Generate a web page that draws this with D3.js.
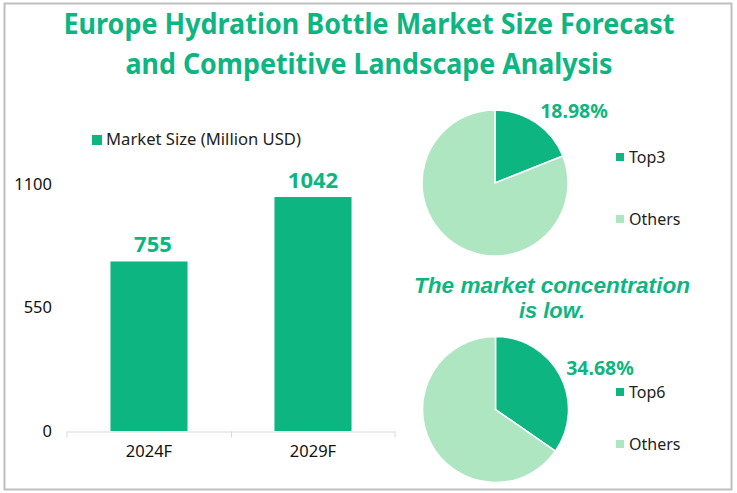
<!DOCTYPE html>
<html>
<head>
<meta charset="utf-8">
<script src="https://cdn.jsdelivr.net/npm/d3@7"></script>
<style>
body { margin: 0; background: #fff; }
text { font-family: "Noto Sans", "Open Sans", sans-serif; }
</style>
</head>
<body>
<div id="chart"></div>
<script>
const width = 737, height = 493;
const green = '#0DB681', lightGreen = '#AEE6C1';

const titleLines = ['Europe Hydration Bottle Market Size Forecast', 'and Competitive Landscape Analysis'];
const noteLines = ['The market concentration', 'is low.'];
const years = ['2024F', '2029F'];
const marketSize = [755, 1042];
const yTicks = [0, 550, 1100];
const pieNames = [['Top3', 'Others'], ['Top6', 'Others']];
const top3Share = [18.98, 81.02];
const top6Share = [34.68, 65.32];

const svg = d3.select('#chart').append('svg').attr('width', width).attr('height', height);

svg.append('rect')
  .attr('x', 4.5).attr('y', 3.5).attr('width', 727).attr('height', 486)
  .style('fill', '#fff').style('stroke', '#BFBFBF').style('stroke-width', 2);

// title
svg.selectAll('.title').data(titleLines).join('text')
  .attr('class', 'title')
  .attr('x', 369)
  .attr('y', (d, i) => 34 + i * 40)
  .attr('text-anchor', 'middle')
  .attr('textLength', (d, i) => i === 0 ? 611 : 487)
  .attr('lengthAdjust', 'spacingAndGlyphs')
  .style('font-size', '29px').style('font-weight', 700).style('fill', green)
  .text(d => d);

// bars
const x = d3.scaleBand().domain(years).range([67, 395]).paddingInner(0.53).paddingOuter(0.265);
const y = d3.scaleLinear().domain([0, 1100]).range([431, 184]);

svg.selectAll('.bar').data(marketSize).join('rect')
  .attr('class', 'bar')
  .attr('x', (d, i) => x(years[i]))
  .attr('y', d => y(d))
  .attr('width', x.bandwidth())
  .attr('height', d => y(0) - y(d))
  .style('fill', green);

svg.selectAll('.barLabel').data(marketSize).join('text')
  .attr('class', 'barLabel')
  .attr('x', (d, i) => x(years[i]) + x.bandwidth() / 2 + (i === 0 ? 4 : 0))
  .attr('y', d => y(d) - 9.5)
  .attr('text-anchor', 'middle')
  .style('font-size', '22px').style('font-weight', 700).style('fill', green)
  .text(d => d);

const xAxis = svg.append('g').attr('transform', 'translate(0,431.5)')
  .call(d3.axisBottom(x).tickSize(0).tickPadding(14));
xAxis.select('.domain').style('stroke', '#D9D9D9');
xAxis.selectAll('text').style('font-size', '16.5px').style('fill', '#111')
  .style('font-family', '"Noto Sans", sans-serif');
// the category axis ticks sit between the bands
xAxis.selectAll('.sep').data([67, 231.5, 395]).join('line')
  .attr('class', 'sep')
  .attr('x1', d => d).attr('x2', d => d)
  .attr('y1', 0).attr('y2', 6)
  .style('stroke', '#D9D9D9');

const yAxis = svg.append('g').attr('transform', 'translate(60,0)')
  .call(d3.axisLeft(y).tickValues(yTicks).tickSize(0).tickPadding(8).tickFormat(d3.format('d')));
yAxis.select('.domain').remove();
yAxis.selectAll('text').style('font-size', '16.5px').style('fill', '#111')
  .style('font-family', '"Noto Sans", sans-serif');

// bar legend
svg.append('rect').attr('x', 92).attr('y', 135).attr('width', 10).attr('height', 10).style('fill', green);
svg.append('text').attr('x', 106).attr('y', 145)
  .attr('textLength', 195).attr('lengthAdjust', 'spacingAndGlyphs')
  .style('font-size', '16.5px').style('fill', '#222')
  .text('Market Size (Million USD)');

// pies
const pieColor = d3.scaleOrdinal().domain([0, 1]).range([green, lightGreen]);
const pie = d3.pie().sort(null);

function drawPie(values, names, cx, cy, r, label, labelX, labelY, legendYs) {
  const arc = d3.arc().innerRadius(0).outerRadius(r);
  const g = svg.append('g').attr('transform', `translate(${cx},${cy})`);
  g.selectAll('path').data(pie(values)).join('path')
    .attr('d', arc)
    .style('fill', (d, i) => pieColor(i))
    .style('stroke', '#fff').style('stroke-width', 1.5);

  svg.append('text').attr('x', labelX).attr('y', labelY)
    .attr('text-anchor', 'middle')
    .style('font-size', '19.5px').style('font-weight', 700).style('fill', green)
    .text(label);

  names.forEach((name, i) => {
    svg.append('rect').attr('x', 616).attr('y', legendYs[i] - 4).attr('width', 8).attr('height', 8)
      .style('fill', pieColor(i));
    svg.append('text').attr('x', 629).attr('y', legendYs[i] + 5.5)
      .style('font-size', '16px').style('fill', '#222')
      .text(name);
  });
}

drawPie(top3Share, pieNames[0], 495, 183, 73, top3Share[0].toFixed(2) + '%', 574, 118, [157, 219]);
drawPie(top6Share, pieNames[1], 495.5, 409.5, 73, top6Share[0].toFixed(2) + '%', 600, 375, [392, 444]);

// note between the pies; Liberation has a shorter line box so the two lines stay clear
svg.selectAll('.note').data(noteLines).join('text')
  .attr('class', 'note')
  .attr('x', 552)
  .attr('y', (d, i) => 293 + i * 25)
  .attr('text-anchor', 'middle')
  .attr('textLength', (d, i) => i === 0 ? 276 : 66)
  .attr('lengthAdjust', 'spacingAndGlyphs')
  .style('font-family', '"Liberation Sans", sans-serif')
  .style('font-size', '21.5px').style('font-weight', 700).style('font-style', 'italic').style('fill', green)
  .text(d => d);
</script>
</body>
</html>
